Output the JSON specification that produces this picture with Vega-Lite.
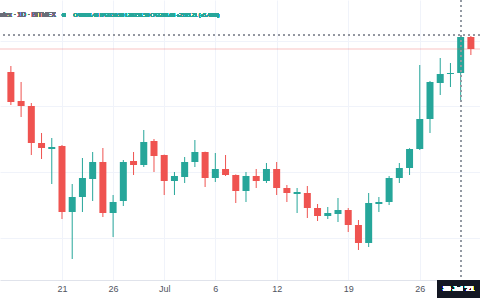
{
  "$schema": "https://vega.github.io/schema/vega-lite/v6.json",
  "width": 480,
  "height": 280,
  "autosize": {"type": "none"},
  "padding": {"left": 0, "top": 0, "right": 0, "bottom": 20},
  "background": "#ffffff",
  "config": {
    "view": {"stroke": null},
    "font": "Liberation Sans"
  },
  "data": {
    "values": [
      {"date": "2021-06-16", "open": 40098, "high": 40464, "low": 38085, "close": 38268},
      {"date": "2021-06-17", "open": 38329, "high": 39488, "low": 37353, "close": 38024},
      {"date": "2021-06-18", "open": 38024, "high": 38207, "low": 35035, "close": 35767},
      {"date": "2021-06-19", "open": 35767, "high": 36377, "low": 34791, "close": 35462},
      {"date": "2021-06-20", "open": 35401, "high": 36072, "low": 33266, "close": 35523},
      {"date": "2021-06-21", "open": 35584, "high": 35645, "low": 31131, "close": 31558},
      {"date": "2021-06-22", "open": 31558, "high": 33266, "low": 28691, "close": 32473},
      {"date": "2021-06-23", "open": 32473, "high": 34852, "low": 31558, "close": 33632},
      {"date": "2021-06-24", "open": 33571, "high": 35218, "low": 32229, "close": 34608},
      {"date": "2021-06-25", "open": 34608, "high": 35462, "low": 31253, "close": 31497},
      {"date": "2021-06-26", "open": 31497, "high": 32595, "low": 30033, "close": 32168},
      {"date": "2021-06-27", "open": 32229, "high": 34730, "low": 31924, "close": 34608},
      {"date": "2021-06-28", "open": 34669, "high": 35218, "low": 33815, "close": 34425},
      {"date": "2021-06-29", "open": 34425, "high": 36560, "low": 34303, "close": 35828},
      {"date": "2021-06-30", "open": 35889, "high": 36011, "low": 33998, "close": 34974},
      {"date": "2021-07-01", "open": 35035, "high": 35060, "low": 32595, "close": 33449},
      {"date": "2021-07-02", "open": 33449, "high": 33998, "low": 32595, "close": 33754},
      {"date": "2021-07-03", "open": 33693, "high": 34913, "low": 33327, "close": 34608},
      {"date": "2021-07-04", "open": 34608, "high": 35950, "low": 34303, "close": 35218},
      {"date": "2021-07-05", "open": 35218, "high": 35240, "low": 33083, "close": 33632},
      {"date": "2021-07-06", "open": 33632, "high": 35157, "low": 33388, "close": 34181},
      {"date": "2021-07-07", "open": 34181, "high": 35035, "low": 33754, "close": 33815},
      {"date": "2021-07-08", "open": 33815, "high": 33850, "low": 32107, "close": 32839},
      {"date": "2021-07-09", "open": 32839, "high": 33998, "low": 32168, "close": 33754},
      {"date": "2021-07-10", "open": 33754, "high": 34181, "low": 33022, "close": 33449},
      {"date": "2021-07-11", "open": 33449, "high": 34547, "low": 33327, "close": 34181},
      {"date": "2021-07-12", "open": 34181, "high": 34608, "low": 32595, "close": 33022},
      {"date": "2021-07-13", "open": 33022, "high": 33205, "low": 32168, "close": 32717},
      {"date": "2021-07-14", "open": 32656, "high": 33022, "low": 31497, "close": 32778},
      {"date": "2021-07-15", "open": 32717, "high": 33144, "low": 31192, "close": 31802},
      {"date": "2021-07-16", "open": 31802, "high": 32046, "low": 31009, "close": 31314},
      {"date": "2021-07-17", "open": 31314, "high": 31863, "low": 31131, "close": 31497},
      {"date": "2021-07-18", "open": 31436, "high": 32412, "low": 30948, "close": 31680},
      {"date": "2021-07-19", "open": 31680, "high": 31800, "low": 30338, "close": 30765},
      {"date": "2021-07-20", "open": 30765, "high": 31070, "low": 29240, "close": 29667},
      {"date": "2021-07-21", "open": 29667, "high": 32717, "low": 29423, "close": 32107},
      {"date": "2021-07-22", "open": 32046, "high": 32473, "low": 31558, "close": 32168},
      {"date": "2021-07-23", "open": 32168, "high": 33750, "low": 31985, "close": 33632},
      {"date": "2021-07-24", "open": 33632, "high": 34547, "low": 33327, "close": 34242},
      {"date": "2021-07-25", "open": 34242, "high": 35450, "low": 33815, "close": 35401},
      {"date": "2021-07-26", "open": 35401, "high": 40525, "low": 35340, "close": 37231},
      {"date": "2021-07-27", "open": 37231, "high": 39550, "low": 36377, "close": 39488},
      {"date": "2021-07-28", "open": 39427, "high": 40952, "low": 38695, "close": 39976},
      {"date": "2021-07-29", "open": 39976, "high": 40647, "low": 39183, "close": 40037},
      {"date": "2021-07-30", "open": 40036, "high": 42310, "low": 38356, "close": 42233},
      {"date": "2021-07-31", "open": 42233, "high": 42294, "low": 41135, "close": 41501}
    ]
  },
  "layer": [
    {
      "mark": {"type": "rule", "strokeWidth": 1},
      "encoding": {
        "x": {
          "field": "date",
          "type": "temporal",
          "title": null,
          "scale": {
            "type": "utc",
            "domain": [
              {"year": 2021, "month": 6, "date": 15, "hours": 10, "minutes": 12, "utc": true},
              {"year": 2021, "month": 7, "date": 31, "hours": 9, "minutes": 39, "utc": true}
            ]
          },
          "axis": {
            "title": null,
            "values": [
              {"year": 2021, "month": 6, "date": 21, "utc": true},
              {"year": 2021, "month": 6, "date": 26, "utc": true},
              {"year": 2021, "month": 7, "date": 1, "utc": true},
              {"year": 2021, "month": 7, "date": 6, "utc": true},
              {"year": 2021, "month": 7, "date": 12, "utc": true},
              {"year": 2021, "month": 7, "date": 19, "utc": true},
              {"year": 2021, "month": 7, "date": 26, "utc": true}
            ],
            "labelExpr": "utcdate(datum.value) === 1 ? 'Jul' : utcFormat(datum.value, '%-d')",
            "grid": true,
            "gridColor": "#f0f3fa",
            "gridWidth": 1,
            "ticks": false,
            "domain": true,
            "domainColor": "#e0e3eb",
            "labelColor": "#50535e",
            "labelFontSize": 9,
            "labelPadding": 4,
            "labelFont": "Liberation Sans"
          }
        },
        "y": {
          "field": "low",
          "type": "quantitative",
          "title": null,
          "scale": {"domain": [27410, 44490], "zero": false, "nice": false},
          "axis": {
            "title": null,
            "values": [30000, 34000, 38000, 42000],
            "labels": false,
            "ticks": false,
            "domain": false,
            "grid": true,
            "gridColor": "#f0f3fa"
          }
        },
        "y2": {"field": "high"},
        "color": {
          "condition": {"test": "datum.open <= datum.close", "value": "#26a69a"},
          "value": "#ef5350"
        }
      }
    },
    {
      "mark": {"type": "bar", "size": 7},
      "encoding": {
        "x": {"field": "date", "type": "temporal", "title": null},
        "y": {"field": "open", "type": "quantitative", "title": null},
        "y2": {"field": "close"},
        "color": {
          "condition": {"test": "datum.open <= datum.close", "value": "#26a69a"},
          "value": "#ef5350"
        }
      }
    },
    {
      "transform": [{"filter": "utcdate(datum.date) === 31 && utcmonth(datum.date) === 6"}],
      "mark": {"type": "rule", "color": "#ef5350", "opacity": 0.35, "strokeWidth": 1},
      "encoding": {
        "y": {"field": "close", "type": "quantitative", "title": null}
      }
    },
    {
      "mark": {"type": "rule", "color": "#9598a1", "strokeDash": [2, 3], "strokeWidth": 1, "opacity": 0.7},
      "encoding": {
        "y": {"datum": 42355, "type": "quantitative", "title": null}
      }
    },
    {
      "mark": {"type": "rule", "color": "#9598a1", "strokeDash": [2, 3], "strokeWidth": 1, "opacity": 0.7},
      "encoding": {
        "x": {"datum": {"year": 2021, "month": 7, "date": 30, "utc": true}, "type": "temporal", "title": null}
      }
    },
    {
      "mark": {"type": "text", "align": "right", "baseline": "middle", "fontSize": 6.5, "color": "#6a6d78"},
      "encoding": {
        "x": {"datum": {"year": 2021, "month": 6, "date": 20, "hours": 9, "minutes": 45, "utc": true}, "type": "temporal", "title": null},
        "y": {"datum": 43575, "type": "quantitative", "title": null},
        "text": {"value": "BTC Index · 1D · BITMEX"}
      }
    },
    {
      "mark": {"type": "point", "filled": true, "size": 14, "color": "#26a69a", "opacity": 1},
      "encoding": {
        "x": {"datum": {"year": 2021, "month": 6, "date": 21, "hours": 4, "minutes": 5, "utc": true}, "type": "temporal", "title": null},
        "y": {"datum": 43575, "type": "quantitative", "title": null}
      }
    },
    {
      "mark": {"type": "text", "align": "left", "baseline": "middle", "fontSize": 5, "color": "#26a69a"},
      "encoding": {
        "x": {"datum": {"year": 2021, "month": 6, "date": 22, "hours": 3, "minutes": 7, "utc": true}, "type": "temporal", "title": null},
        "y": {"datum": 43575, "type": "quantitative", "title": null},
        "text": {"value": "O40036.48 H42310.90 L38356.50 C42233.68 +2195.21 (+5.48%)"}
      }
    },
    {
      "mark": {"type": "rect", "color": "#131722"},
      "encoding": {
        "x": {"datum": {"year": 2021, "month": 7, "date": 27, "hours": 18, "utc": true}, "type": "temporal", "title": null},
        "x2": {"datum": {"year": 2021, "month": 8, "date": 1, "hours": 12, "utc": true}},
        "y": {"datum": 27410, "type": "quantitative", "title": null},
        "y2": {"datum": 26312}
      }
    },
    {
      "mark": {"type": "text", "align": "center", "baseline": "middle", "fontSize": 7, "fontWeight": "bold", "color": "#ffffff"},
      "encoding": {
        "x": {"datum": {"year": 2021, "month": 7, "date": 29, "hours": 19, "utc": true}, "type": "temporal", "title": null},
        "y": {"datum": 26861, "type": "quantitative", "title": null},
        "text": {"value": "30 Jul '21"}
      }
    }
  ]
}
